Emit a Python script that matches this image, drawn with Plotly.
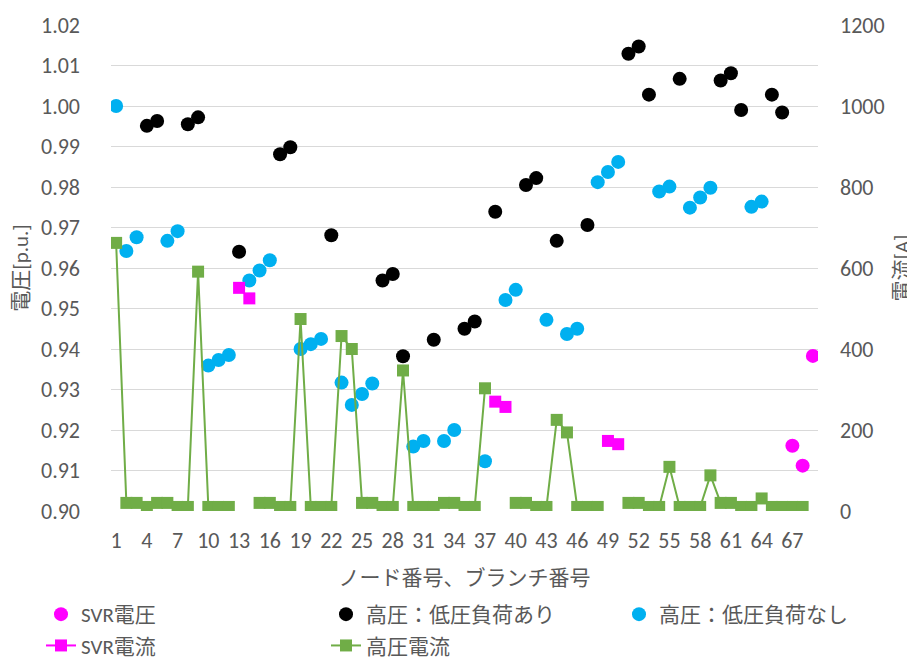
import plotly.graph_objects as go

# ---- data ----
node_ids = list(range(1, 70))      # nodes 1..69
branch_ids = list(range(1, 69))    # branches 1..68
xtick_labels = list(range(1, 68, 3))

svr_voltage = {67: 0.9161, 68: 0.9112, 69: 0.9383}

hv_with_lv = {4: 0.9951, 5: 0.9963, 8: 0.9955, 9: 0.9972, 13: 0.9640, 17: 0.9881,
              18: 0.9898, 22: 0.9681, 27: 0.9569, 28: 0.9585, 29: 0.9382, 32: 0.9423,
              35: 0.9450, 36: 0.9468, 38: 0.9739, 41: 0.9805, 42: 0.9822, 44: 0.9667,
              47: 0.9706, 51: 1.0129, 52: 1.0147, 53: 1.0028, 56: 1.0067, 60: 1.0063,
              61: 1.0081, 62: 0.9990, 65: 1.0028, 66: 0.9984}

hv_without_lv = {1: 1.0000, 2: 0.9642, 3: 0.9676, 6: 0.9667, 7: 0.9691, 10: 0.9359,
                 11: 0.9373, 12: 0.9385, 14: 0.9569, 15: 0.9594, 16: 0.9619, 19: 0.9400,
                 20: 0.9412, 21: 0.9425, 23: 0.9317, 24: 0.9262, 25: 0.9289, 26: 0.9315,
                 30: 0.9159, 31: 0.9173, 33: 0.9173, 34: 0.9200, 37: 0.9123, 39: 0.9521,
                 40: 0.9546, 43: 0.9472, 45: 0.9437, 46: 0.9450, 48: 0.9812, 49: 0.9837,
                 50: 0.9862, 54: 0.9789, 55: 0.9801, 57: 0.9749, 58: 0.9774, 59: 0.9798,
                 63: 0.9751, 64: 0.9764}

svr_current = {13: 551, 14: 525, 38: 270, 39: 257, 49: 173, 50: 165}

hv_current = {1: 662, 2: 20, 3: 20, 4: 10, 5: 20, 6: 20, 7: 10, 8: 10, 9: 591, 10: 10,
              11: 10, 12: 10, 15: 20, 16: 20, 17: 10, 18: 10, 19: 474, 20: 10,
              21: 10, 22: 10, 23: 432, 24: 400, 25: 20, 26: 20, 27: 10, 28: 10, 29: 347,
              30: 10, 31: 10, 32: 10, 33: 20, 34: 20, 35: 10, 36: 10, 37: 303,
              40: 20, 41: 20, 42: 10, 43: 10, 44: 225, 45: 194, 46: 10, 47: 10, 48: 10,
              51: 20, 52: 20, 53: 10, 54: 10, 55: 109, 56: 10, 57: 10, 58: 10, 59: 88,
              60: 20, 61: 20, 62: 10, 63: 10, 64: 31, 65: 10, 66: 10, 67: 10, 68: 10}


def series(d, ids):
    return [d.get(i) for i in ids]


FONT = "Carlito, Lato, 'Noto Sans CJK JP', sans-serif"
GRAY = "#595959"
MAGENTA = "#FF00FF"
BLUE = "#00B0F0"
GREEN = "#70AD47"

fig = go.Figure()
fig.add_trace(go.Scatter(x=node_ids, y=series(svr_voltage, node_ids), name="SVR電圧",
                         mode="markers", marker=dict(symbol="circle", size=14, color=MAGENTA),
                         legend="legend", legendgroup="a"))
fig.add_trace(go.Scatter(x=node_ids, y=series(hv_with_lv, node_ids), name="高圧：低圧負荷あり",
                         mode="markers", marker=dict(symbol="circle", size=14, color="#000000"),
                         legend="legend2", legendgroup="b"))
fig.add_trace(go.Scatter(x=node_ids, y=series(hv_without_lv, node_ids), name="高圧：低圧負荷なし",
                         mode="markers", marker=dict(symbol="circle", size=14, color=BLUE),
                         legend="legend3", legendgroup="c"))
fig.add_trace(go.Scatter(x=branch_ids, y=series(svr_current, branch_ids), name="SVR電流",
                         mode="lines+markers", yaxis="y2",
                         marker=dict(symbol="square", size=12, color=MAGENTA),
                         line=dict(color=MAGENTA, width=2),
                         legend="legend", legendgroup="d"))
fig.add_trace(go.Scatter(x=branch_ids, y=series(hv_current, branch_ids), name="高圧電流",
                         mode="lines+markers", yaxis="y2",
                         marker=dict(symbol="square", size=12, color=GREEN),
                         line=dict(color=GREEN, width=2),
                         legend="legend2", legendgroup="e"))

# page body adds an 8px offset; the figure is sized to fill the rest of the window
OFF = 8
W, H = 915 - OFF, 659 - OFF
L, T = 111 - OFF, 25 - OFF
R, B = 915 - 818, 659 - 511
pw = W - L - R
ph = H - T - B


def px_x(px):
    return (px - OFF - L) / pw


def px_y(py):
    return (H - B - (py - OFF)) / ph


TICKSZ = 22
TXTSZ = 21

legend_common = dict(font=dict(family=FONT, size=TXTSZ, color=GRAY), bgcolor="rgba(0,0,0,0)",
                     yanchor="top", xanchor="left", orientation="v", tracegroupgap=1,
                     traceorder="grouped")

fig.update_layout(
    width=W, height=H,
    margin=dict(l=L, r=R, t=T, b=B, pad=0, autoexpand=False),
    paper_bgcolor="white", plot_bgcolor="white",
    font=dict(family=FONT, size=TXTSZ, color=GRAY),
    xaxis=dict(range=[0.5, 69.5], tickmode="array", tickvals=xtick_labels,
               ticktext=[str(v) for v in xtick_labels], showgrid=False, zeroline=False,
               showline=False, ticks="", ticklabelstandoff=14, automargin=False,
               tickfont=dict(family=FONT, size=TICKSZ, color=GRAY),
               title=dict(text="ノード番号、ブランチ番号", standoff=17,
                          font=dict(family=FONT, size=TXTSZ, color=GRAY))),
    yaxis=dict(range=[0.90, 1.02], dtick=0.01, tick0=0.9, tickformat=".2f",
               showgrid=True, gridcolor="#D9D9D9", gridwidth=1.3, zeroline=False,
               showline=False, ticks="", ticklabelstandoff=30, automargin=False,
               tickfont=dict(family=FONT, size=TICKSZ, color=GRAY),
               title=dict(text="電圧[p.u.]", standoff=6,
                          font=dict(family=FONT, size=TXTSZ, color=GRAY))),
    yaxis2=dict(range=[0, 1200], dtick=200, overlaying="y", side="right",
                showgrid=False, zeroline=False, showline=False, ticks="",
                ticklabelstandoff=21, automargin=False,
                tickfont=dict(family=FONT, size=TICKSZ, color=GRAY),
                title=dict(text="電流[A]", standoff=10,
                           font=dict(family=FONT, size=TXTSZ, color=GRAY))),
    legend=dict(x=px_x(41), y=px_y(594), **legend_common),
    legend2=dict(x=px_x(326), y=px_y(594), **legend_common),
    legend3=dict(x=px_x(619), y=px_y(594), **legend_common),
)

fig.write_html("out.html")
